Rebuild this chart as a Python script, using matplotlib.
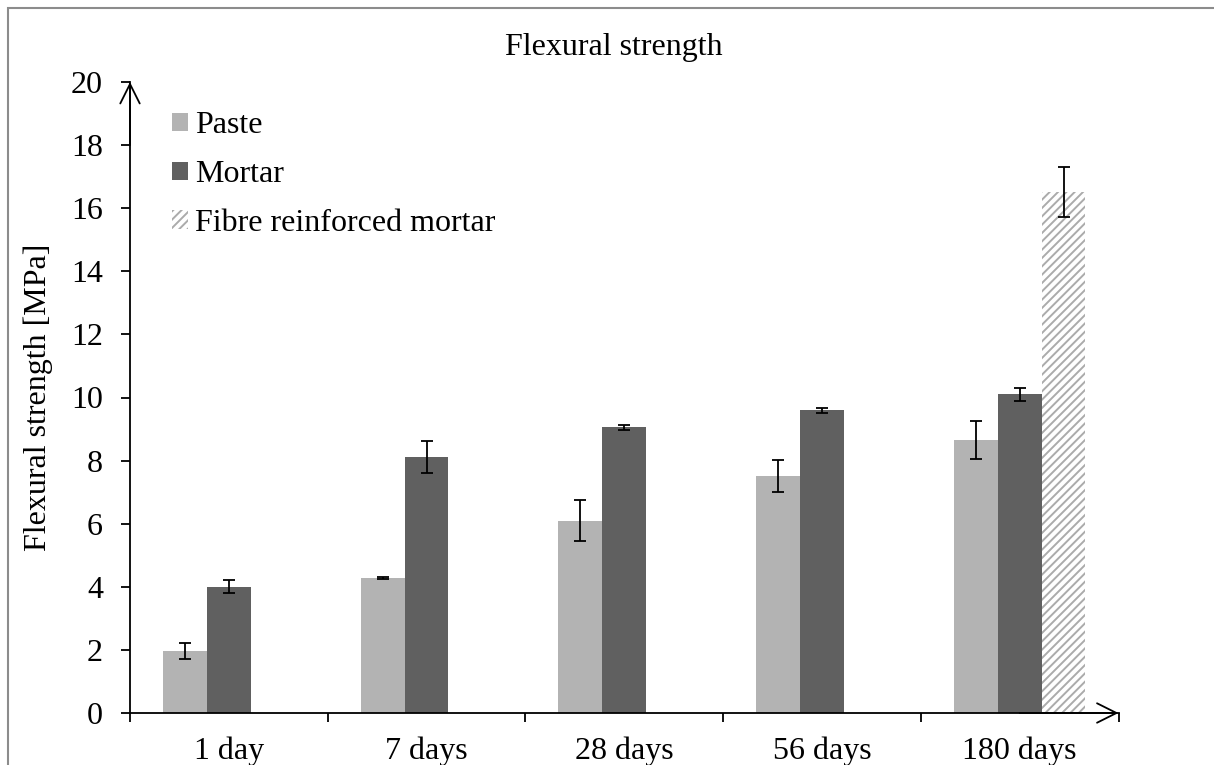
import numpy as np
import matplotlib
matplotlib.use("Agg")
import matplotlib.pyplot as plt
from matplotlib.patches import Rectangle

plt.rcParams['font.family'] = ['Liberation Serif', 'DejaVu Serif']
plt.rcParams['hatch.linewidth'] = 1.4
plt.rcParams['hatch.color'] = '#ababab'

# data
ages = ["1 day", "7 days", "28 days", "56 days", "180 days"]
paste = [1.97, 4.28, 6.10, 7.51, 8.66]
paste_err = [0.25, 0.02, 0.66, 0.52, 0.61]
mortar = [4.00, 8.12, 9.06, 9.60, 10.10]
mortar_err = [0.20, 0.50, 0.08, 0.08, 0.20]
fibre_age = ["180 days"]
fibre = [16.52]
fibre_err = [0.80]

fs = 23
fig = plt.figure(figsize=(12.14, 7.65), dpi=100)
ax = fig.add_axes([130/1214, 52/765, 988.5/1214, 631/765])

x = np.arange(len(ages))
w = 0.222
ekw = dict(ecolor="black", elinewidth=1.3, capsize=4.5, capthick=1.3)
ax.bar(x - w, paste, w, yerr=paste_err, color="#b3b3b3", error_kw=ekw, label="Paste")
ax.bar(x, mortar, w, yerr=mortar_err, color="#606060", error_kw=ekw, label="Mortar")
xf = np.array([ages.index(a) for a in fibre_age])
ax.bar(xf + w, fibre, w, yerr=fibre_err, color="white", hatch="////", linewidth=0,
       error_kw=ekw, label="Fibre reinforced mortar")

ax.set_xlim(-0.5, len(ages) - 0.5)
ax.set_ylim(0, 20)
ax.set_yticks(np.arange(0, 21, 2))
ax.set_xticks(x)
ax.set_xticklabels(ages)
ax.set_xticks(np.arange(-0.5, len(ages), 1), minor=True)
ax.tick_params(axis="x", which="major", length=0, pad=17, labelsize=fs)
ax.tick_params(axis="x", which="minor", length=6.5, width=1.3, direction="out")
ax.tick_params(axis="y", length=6.5, width=1.3, pad=13, labelsize=fs)
for s in ["top", "right"]:
    ax.spines[s].set_visible(False)
for s in ["left", "bottom"]:
    ax.spines[s].set_linewidth(1.3)

arr = dict(arrowstyle="->,head_length=0.7,head_width=0.35", lw=1.3,
           color="black", shrinkA=0, shrinkB=0, mutation_scale=20)
ax.annotate("", xy=(0, 1.0), xytext=(0, 0.9), xycoords="axes fraction", arrowprops=arr)
ax.annotate("", xy=(1.0, 0), xytext=(0.9, 0), xycoords="axes fraction", arrowprops=arr)

ax.set_ylabel("Flexural strength [MPa]", fontsize=fs, labelpad=13)
fig.text(613.5/1214, 1 - 48/765, "Flexural strength", fontsize=fs, ha="center", va="center")

ax.legend(loc="upper left", bbox_to_anchor=(0.03, 0.974), frameon=False, fontsize=fs,
          handlelength=0.5, handleheight=0.5, handletextpad=0.2, labelspacing=0.62,
          borderaxespad=0)

fig.patches.append(Rectangle((8/1214, -0.5), 1.5, 1 - 8/765 + 0.5, transform=fig.transFigure,
                             fill=False, edgecolor="#8c8c8c", linewidth=1.5))

fig.savefig("out.png", dpi=100)
